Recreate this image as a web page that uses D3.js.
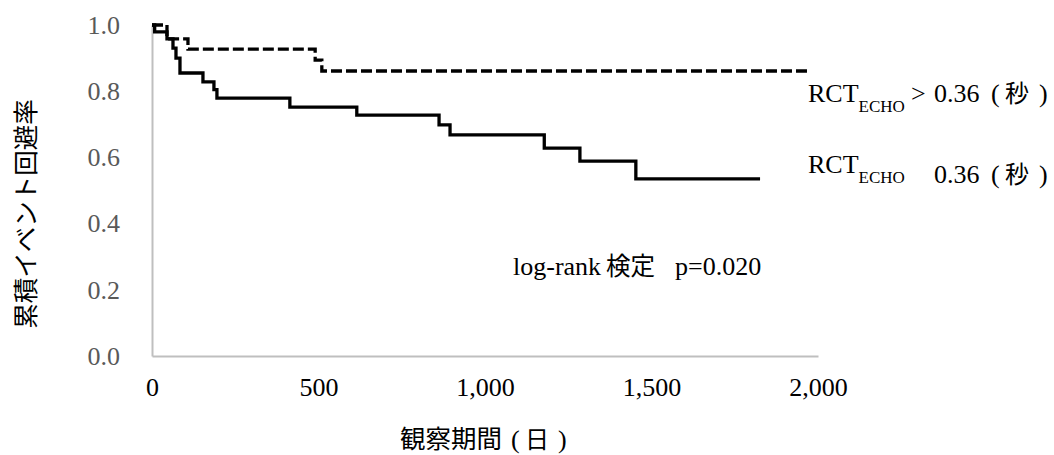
<!DOCTYPE html>
<html>
<head>
<meta charset="utf-8">
<script src="https://cdn.jsdelivr.net/npm/d3@7"></script>
<style>
  body { margin: 0; background: #fff; }
  .serif { font-family: "Liberation Serif", "Times New Roman", serif; }
  .cjk { font-family: "Noto Sans CJK JP", sans-serif; }
</style>
</head>
<body>
<svg id="chart" width="1054" height="455"></svg>
<script>
// Kaplan-Meier steps (days, survival)
var lowDays = [0, 8, 45, 63, 72, 84, 153, 186, 195, 414, 615, 862, 895, 1178, 1285, 1453, 1826];
var lowSurv = [1.0, 0.979, 0.958, 0.930, 0.900, 0.855, 0.828, 0.805, 0.779, 0.752, 0.728, 0.698, 0.668, 0.628, 0.589, 0.535, 0.535];
var highDays = [0, 45, 108, 490, 510, 1975];
var highSurv = [1.0, 0.958, 0.927, 0.894, 0.861, 0.861];
var xTicks = [0, 500, 1000, 1500, 2000];
var yTicks = [0.0, 0.2, 0.4, 0.6, 0.8, 1.0];

var svg = d3.select("#chart");
var x = d3.scaleLinear().domain([0, 2000]).range([152, 818]);
var y = d3.scaleLinear().domain([0, 1]).range([356, 25]);

var toPoints = function(days, surv) {
  return days.map(function(d, i) { return [d, surv[i]]; });
};

// axes
var yAxis = svg.append("g")
  .attr("transform", "translate(152,0)")
  .call(d3.axisLeft(y).tickValues(yTicks).tickSize(0).tickSizeOuter(0).tickPadding(32).tickFormat(d3.format(".1f")));
yAxis.select(".domain").attr("stroke", "#bfbfbf").attr("stroke-width", 2);
yAxis.selectAll("text").attr("class", "serif").attr("font-size", 26).attr("fill", "#595959");

var xAxis = svg.append("g")
  .attr("transform", "translate(0,356)")
  .call(d3.axisBottom(x).tickValues(xTicks).tickSize(0).tickSizeOuter(0).tickPadding(22).tickFormat(d3.format(",")));
xAxis.select(".domain").attr("stroke", "#bfbfbf").attr("stroke-width", 2);
xAxis.selectAll("text").attr("class", "serif").attr("font-size", 26).attr("fill", "#000");
svg.selectAll(".tick").attr("font-family", null).attr("font-size", null);

// curves
var line = d3.line()
  .x(function(d) { return x(d[0]); })
  .y(function(d) { return y(d[1]); })
  .curve(d3.curveStepAfter);

svg.append("path")
  .datum(toPoints(highDays, highSurv))
  .attr("d", line)
  .attr("fill", "none")
  .attr("stroke", "#000")
  .attr("stroke-width", 3.3)
  .attr("stroke-dasharray", "11,4");

svg.append("path")
  .datum(toPoints(lowDays, lowSurv))
  .attr("d", line)
  .attr("fill", "none")
  .attr("stroke", "#000")
  .attr("stroke-width", 3.3);

// axis titles
svg.append("text")
  .attr("class", "cjk")
  .attr("transform", "translate(35,214) rotate(-90)")
  .attr("text-anchor", "middle")
  .attr("font-size", 25.5)
  .text("累積イベント回避率");

// parens are drawn narrow and spaced, as in the source
var paren = function(sel, x0, word, gap) {
  sel.append("tspan").attr("class", "serif").attr("x", x0).text("(");
  sel.append("tspan").attr("class", "cjk").attr("font-size", 24).attr("x", x0 + 14).text(word);
  sel.append("tspan").attr("class", "serif").attr("x", x0 + 14 + word.length * 24 + gap).text(")");
};

var xt = svg.append("text").attr("y", 448).attr("font-size", 26);
xt.append("tspan").attr("class", "cjk").attr("font-size", 25.5).attr("x", 400).text("観察期間");
paren(xt, 511, "日", 9);

// legend labels
var legend = [
  { y: 102, op: ">" },
  { y: 173, op: "" }
];
legend.forEach(function(d) {
  var t = svg.append("text").attr("class", "serif").attr("y", d.y).attr("font-size", 26);
  t.append("tspan").attr("x", 808).text("RCT");
  t.append("tspan").attr("font-size", 17).attr("dy", 10).text("ECHO");
  t.append("tspan").attr("dy", -10).attr("x", 911).text(d.op);
  t.append("tspan").attr("x", 934).text("0.36");
  paren(t, 991, "秒", 10);
});

// test annotation
var note = svg.append("text").attr("class", "serif").attr("x", 513).attr("y", 275).attr("font-size", 26);
note.append("tspan").text("log-rank");
note.append("tspan").attr("class", "cjk").attr("font-size", 24.5).attr("x", 606).text("検定");
note.append("tspan").attr("x", 675).text("p=0.020");
</script>
</body>
</html>
